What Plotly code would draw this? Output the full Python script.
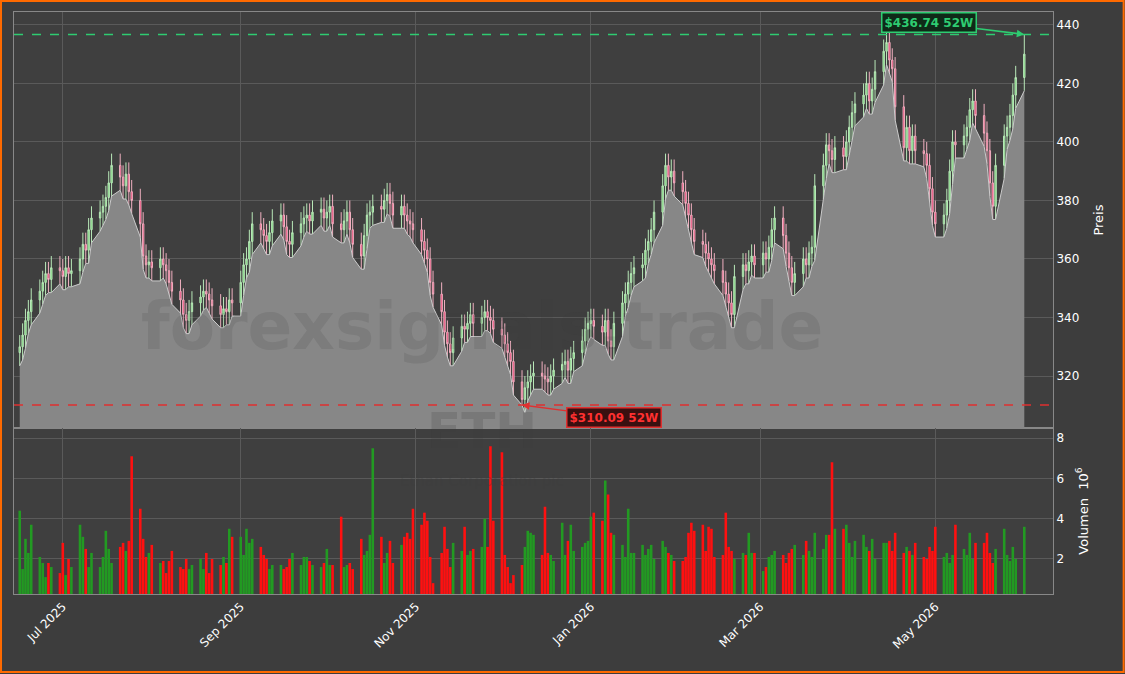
import plotly.graph_objects as go
from plotly.subplots import make_subplots
import pandas as pd

start_date = "2025-06-16"
closes = [330,334,339,342,346,349,
352,355,353,357,356,354,357,355,356,
360,365,363,370,374,376,
378,381,386,392,388,385,389,
383,380,372,361,
358,359,357,360,358,356,
352,349,346,341,339,
342,345,347,349,348,
346,344,341,343,342,
346,345,352,358,360,
366,372,370,368,366,369,
373,375,371,366,365,
369,372,374,375,373,376,
377,374,376,378,372,370,
373,376,370,365,361,368,
375,376,378,377,380,
382,379,375,378,375,
373,372,370,366,363,
360,352,348,342,335,
331,328,333,337,336,
338,341,338,340,342,
340,339,336,334,331,
328,325,318,312,
316,318,320,321,320,319,
318,320,322,324,325,322,
326,328,332,336,338,339,
337,335,339,332,330,
338,345,348,352,355,
357,358,363,366,370,
376,385,392,388,390,
386,383,379,375,370,
366,365,362,360,358,
356,352,348,345,341,
354,358,356,359,361,
358,362,360,364,370,
374,368,362,357,352,
355,360,358,362,364,
385,392,399,397,394,
398,395,400,405,410,
413,416,420,414,418,
424,431,434,428,425,
412,398,405,397,402,
397,396,392,384,376,
372,375,380,390,400,
399,402,405,411,414,
409,403,397,386,378,
392,402,405,409,416,422,
430]
opens = [328] + closes[:-1]
volumes = [4.4,1.5,3.0,2.3,3.7,2.1,1.8,1.1,1.8,1.6,1.3,2.8,1.2,2.0,1.6,3.7,3.1,2.5,1.6,2.3,
1.6,2.1,3.4,2.5,1.8,2.6,2.8,2.4,2.9,7.1,4.5,3.0,2.1,2.3,2.7,1.8,1.9,1.3,1.9,2.4,
1.6,1.5,2.0,1.5,1.7,2.0,1.5,2.3,1.3,2.0,1.7,2.1,1.8,3.5,3.1,3.1,2.2,3.5,2.8,3.0,
2.6,2.2,2.0,1.5,1.7,1.7,1.5,1.6,2.0,2.3,1.7,2.1,2.1,1.9,1.7,1.6,1.8,2.5,1.7,1.7,
4.1,1.6,1.7,1.8,1.5,3.0,2.2,2.4,3.2,7.5,3.1,1.8,2.3,2.9,1.8,2.7,3.1,3.3,3.0,4.5,
3.7,4.3,3.9,2.1,0.8,2.3,3.6,2.5,1.6,2.8,2.4,3.6,2.2,2.4,2.5,2.6,4.0,2.6,7.6,3.9,
7.3,2.2,1.6,0.8,1.2,1.7,2.6,3.4,3.3,3.2,2.2,4.6,2.3,2.2,1.9,3.8,2.2,2.9,3.7,2.4,
2.6,2.8,2.9,4.1,4.3,3.9,5.9,5.2,3.3,3.2,2.7,2.1,4.5,2.3,2.3,2.7,2.2,2.5,2.7,2.0,
2.9,2.6,2.3,2.2,1.9,1.9,2.1,3.3,3.8,3.4,3.7,2.4,3.6,3.5,2.1,2.2,4.3,2.6,2.4,2.0,
2.3,2.2,3.3,2.3,2.3,1.4,1.6,2.1,2.2,2.4,2.2,1.8,2.3,2.5,2.7,2.2,2.9,2.4,2.1,3.3,
2.5,3.2,3.2,6.8,3.5,3.5,3.7,2.8,2.1,2.9,3.2,2.6,2.4,3.0,2.0,2.8,2.8,2.9,2.4,3.3,
2.3,2.6,2.4,2.2,2.8,2.1,2.0,2.6,2.4,3.6,2.1,2.3,1.8,2.2,3.7,2.5,2.2,3.3,2.0,2.8,
2.8,3.3,2.3,1.8,2.5,3.5,2.2,1.9,2.6,2.0,3.6,2.3,1.8,2.6,3.7,2.5,2.2,1.9,2.4,3.0]
high_52w = 436.74
low_52w = 310.09

n = len(closes)
volumes = volumes[:n]
dates = pd.bdate_range(start_date, periods=n)
highs = [max(o, c) + 4.0 for o, c in zip(opens, closes)]
lows = [min(o, c) - 4.5 for o, c in zip(opens, closes)]
highs[-1] = high_52w
i_low = closes.index(312)
lows[i_low] = low_52w

fig = make_subplots(rows=2, cols=1, shared_xaxes=True, vertical_spacing=0,
                    row_heights=[0.715, 0.285])
fig.add_trace(go.Scatter(x=dates, y=lows, mode="lines", fill="tozeroy",
                         line=dict(color="#cccccc", width=1), fillcolor="#878787",
                         hoverinfo="skip", showlegend=False), row=1, col=1)
fig.add_trace(go.Candlestick(x=dates, open=opens, high=highs, low=lows, close=closes,
                             increasing=dict(line=dict(color="#b8e8b8", width=1), fillcolor="#6fcf6f"),
                             decreasing=dict(line=dict(color="#f0b0c0", width=1), fillcolor="#e8245e"),
                             whiskerwidth=0, showlegend=False), row=1, col=1)
vcol = ["#229a22" if c >= o else "#ff1010" for o, c in zip(opens, closes)]
fig.add_trace(go.Bar(x=dates, y=volumes, marker=dict(color=vcol, line=dict(width=0)),
                     showlegend=False), row=2, col=1)

for yv, col in [(high_52w, "#2ecc71"), (low_52w, "#e03030")]:
    fig.add_hline(y=yv, line=dict(color=col, dash="dash", width=1.5), row=1, col=1)

fig.add_annotation(x=dates[-1], y=high_52w, xref="x", yref="y", text="<b>$436.74 52W</b>",
                   ax=-95, ay=-12, showarrow=True, arrowhead=2, arrowcolor="#2ecc71", arrowwidth=1.5,
                   font=dict(color="#2ecc71", size=12), bgcolor="#0f2a18", bordercolor="#2ecc71",
                   borderwidth=1.5, borderpad=2)
fig.add_annotation(x=dates[i_low], y=low_52w, xref="x", yref="y", text="<b>$310.09 52W</b>",
                   ax=92, ay=12, showarrow=True, arrowhead=2, arrowcolor="#e03030", arrowwidth=1.5,
                   font=dict(color="#ff3030", size=12), bgcolor="#3a1010", bordercolor="#e03030",
                   borderwidth=1.5, borderpad=2)

fig.add_annotation(text="<b>forexsignals.trade</b>", xref="paper", yref="paper", x=0.45, y=0.46,
                   showarrow=False, font=dict(size=66, color="rgba(60,60,60,0.14)", family="DejaVu Sans"))
fig.add_annotation(text="<b>ETH</b>", xref="paper", yref="paper", x=0.45, y=0.227,
                   showarrow=False, font=dict(size=50, color="rgba(60,60,60,0.2)", family="DejaVu Sans"))
fig.add_annotation(text="Ethan Corporation plc", xref="paper", yref="paper", x=0.45, y=0.175,
                   showarrow=False, font=dict(size=15, color="rgba(60,60,60,0.3)", family="DejaVu Sans"))

fig.add_shape(type="rect", xref="paper", yref="paper", x0=-0.0125, x1=1.068, y0=-0.134, y1=1.019,
              line=dict(color="#ff6a00", width=2), fillcolor="rgba(0,0,0,0)", layer="below")

ax = dict(gridcolor="#5a5a5a", linecolor="#888888", showline=True, mirror=True,
          tickfont=dict(color="#ffffff", size=12), zeroline=False)
fig.update_xaxes(**ax, range=["2025-06-14", "2026-06-11"], rangeslider_visible=False)
fig.update_xaxes(dtick="M2", tick0="2025-07-01", tickformat="%b %Y", tickangle=-45, row=2, col=1)
fig.update_yaxes(**ax, side="right")
fig.update_yaxes(range=[302.2, 444.4], dtick=20, title=dict(text="Preis", font=dict(color="#ffffff", size=13)), row=1, col=1)
fig.update_yaxes(range=[0.26, 8.5], tickvals=[2, 4, 6, 8],
                 title=dict(text="Volumen  10<sup>6</sup>", font=dict(color="#ffffff", size=13)), row=2, col=1)

fig.update_layout(width=1125, height=674, margin=dict(l=14, r=72, t=12, b=80, autoexpand=False),
                  paper_bgcolor="#3d3d3d", plot_bgcolor="#3f3f3f", bargap=0.1,
                  font=dict(family="DejaVu Sans", color="#ffffff"))
fig.write_html("out.html", config={"displayModeBar": False})
with open("out.html", encoding="utf-8") as f:
    html = f.read()
html = html.replace("<body>", '<body style="margin:0;background:#3d3d3d;overflow:hidden">', 1)
with open("out.html", "w", encoding="utf-8") as f:
    f.write(html)
